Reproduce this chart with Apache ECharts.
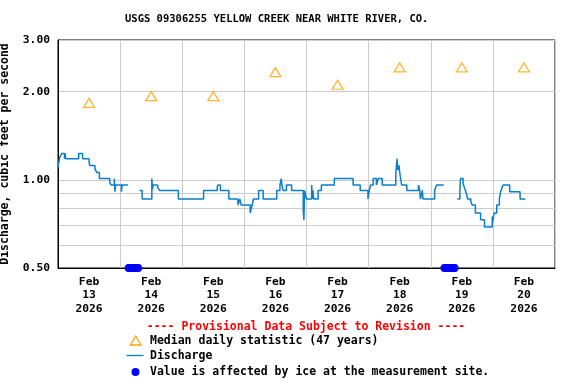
<!DOCTYPE html>
<html><head><meta charset="utf-8">
<script src="https://cdn.jsdelivr.net/npm/echarts@6/dist/echarts.min.js"></script>
<style>html,body{margin:0;padding:0;background:#fff}#c{width:576px;height:384px}</style>
</head><body><div id="c"></div>
<script>
const chartTitle = 'USGS 09306255 YELLOW CREEK NEAR WHITE RIVER, CO.';
const yAxisName = 'Discharge, cubic feet per second';
const yTickValues = [0.5, 0.6, 0.7, 0.8, 0.9, 1, 2, 3];
const yLabelValues = [0.5, 1, 2, 3];
const xMin = '2026-02-13T00:00:00';
const xMax = '2026-02-21T00:00:00';
const xDayLabels = ['Feb\n13\n2026','Feb\n14\n2026','Feb\n15\n2026','Feb\n16\n2026','Feb\n17\n2026','Feb\n18\n2026','Feb\n19\n2026','Feb\n20\n2026'];

const medianTimes = ['2026-02-13 12:00','2026-02-14 12:00','2026-02-15 12:00','2026-02-16 12:00','2026-02-17 12:00','2026-02-18 12:00','2026-02-19 12:00','2026-02-20 12:00'];
const medianValues = [1.83, 1.93, 1.93, 2.33, 2.11, 2.42, 2.42, 2.42];

const dischargeTimes = [
 '2026-02-13 00:00','2026-02-13 00:15','2026-02-13 00:45','2026-02-13 01:30','2026-02-13 02:30','2026-02-13 02:45','2026-02-13 03:00','2026-02-13 08:00','2026-02-13 09:30','2026-02-13 12:00','2026-02-13 12:15','2026-02-13 14:15','2026-02-13 15:00','2026-02-13 16:00','2026-02-13 20:00','2026-02-13 20:30','2026-02-13 21:45','2026-02-13 22:00','2026-02-13 22:15',
 '2026-02-14 00:30','2026-02-14 00:45','2026-02-14 03:00','2026-02-14 03:15',
 '2026-02-14 07:30','2026-02-14 08:30','2026-02-14 12:15','2026-02-14 12:30','2026-02-14 12:45','2026-02-14 14:30','2026-02-14 15:15','2026-02-14 22:30',
 '2026-02-15 08:15','2026-02-15 13:30','2026-02-15 13:45','2026-02-15 14:45','2026-02-15 18:00','2026-02-15 21:30','2026-02-15 22:15','2026-02-15 22:45',
 '2026-02-16 02:15','2026-02-16 03:00','2026-02-16 03:30','2026-02-16 05:30','2026-02-16 07:15','2026-02-16 12:30','2026-02-16 13:45','2026-02-16 14:15','2026-02-16 14:30','2026-02-16 15:00','2026-02-16 16:15','2026-02-16 18:15','2026-02-16 22:45','2026-02-16 23:00','2026-02-16 23:15',
 '2026-02-17 00:00','2026-02-17 02:00','2026-02-17 02:15','2026-02-17 02:30','2026-02-17 02:45','2026-02-17 04:30','2026-02-17 05:45','2026-02-17 10:45','2026-02-17 18:00','2026-02-17 20:45','2026-02-17 23:45',
 '2026-02-18 00:15','2026-02-18 00:45','2026-02-18 01:45','2026-02-18 03:00','2026-02-18 03:45','2026-02-18 05:15','2026-02-18 10:30','2026-02-18 11:00','2026-02-18 11:15','2026-02-18 11:45','2026-02-18 12:00','2026-02-18 12:45','2026-02-18 14:45','2026-02-18 19:15','2026-02-18 19:45','2026-02-18 20:00','2026-02-18 20:45','2026-02-18 21:00',
 '2026-02-19 01:30','2026-02-19 02:15','2026-02-19 05:00','2026-02-19 05:15',
 '2026-02-19 10:15','2026-02-19 11:15','2026-02-19 11:30','2026-02-19 12:30','2026-02-19 13:00','2026-02-19 13:45','2026-02-19 14:15','2026-02-19 15:30','2026-02-19 16:00','2026-02-19 17:15','2026-02-19 19:15','2026-02-19 20:45','2026-02-19 23:45',
 '2026-02-20 00:00','2026-02-20 00:15','2026-02-20 00:30','2026-02-20 01:30','2026-02-20 02:30','2026-02-20 03:00','2026-02-20 03:30','2026-02-20 04:00','2026-02-20 06:30','2026-02-20 10:30','2026-02-20 12:30'
];
const dischargeValues = [
 1.10,1.14,1.20,1.23,1.18,1.23,1.18,1.23,1.18,1.15,1.12,1.09,1.06,1.01,0.98,0.96,1.01,0.91,0.96,
 0.91,0.96,0.96,null,
 0.92,0.86,1.01,0.93,0.96,0.94,0.92,0.86,
 0.92,0.94,0.96,0.92,0.86,0.82,0.86,0.82,
 0.77,0.82,0.86,0.92,0.86,0.92,0.96,1.01,0.96,0.92,0.96,0.92,0.79,0.73,0.92,
 0.86,0.96,0.86,0.92,0.86,0.92,0.96,1.01,0.96,0.92,0.86,
 0.92,0.96,1.01,0.96,1.01,0.96,1.06,1.18,1.08,1.12,1.06,0.96,0.92,0.96,0.92,0.86,0.92,0.86,
 0.92,0.96,0.96,null,
 0.86,0.92,1.01,0.97,0.94,0.90,0.86,0.84,0.82,0.77,0.73,0.69,0.75,
 0.72,0.75,0.77,0.82,0.86,0.91,0.94,0.96,0.91,0.86,0.86
];

const iceTimes = [
 '2026-02-14 03:15','2026-02-14 03:30','2026-02-14 03:45','2026-02-14 04:00','2026-02-14 04:15','2026-02-14 04:30','2026-02-14 04:45','2026-02-14 05:00','2026-02-14 05:15','2026-02-14 05:30','2026-02-14 05:45','2026-02-14 06:00','2026-02-14 06:15','2026-02-14 06:30','2026-02-14 06:45','2026-02-14 07:00',
 '2026-02-19 05:15','2026-02-19 05:30','2026-02-19 05:45','2026-02-19 06:00','2026-02-19 06:15','2026-02-19 06:30','2026-02-19 06:45','2026-02-19 07:00','2026-02-19 07:15','2026-02-19 07:30','2026-02-19 07:45','2026-02-19 08:00','2026-02-19 08:15','2026-02-19 08:30','2026-02-19 08:45','2026-02-19 09:00','2026-02-19 09:15'
];
const iceLevel = 0.5;

const legendProvisional = '---- Provisional Data Subject to Revision ----';
const legendMedian = 'Median daily statistic (47 years)';
const legendDischarge = 'Discharge';
const legendIce = 'Value is affected by ice at the measurement site.';

const FONT = '"DejaVu Sans Mono", monospace';
const LINE_COLOR = '#0A7ECF';
const MEDIAN_COLOR = '#FFA500';
const GRID_COLOR = '#CCCCCC';

const chart = echarts.init(document.getElementById('c'), null, {renderer: 'canvas'});
const option = {
  animation: false,
  backgroundColor: '#fff',
  title: {
    text: chartTitle, left: 120, top: 9,
    textStyle: {fontFamily: FONT, fontWeight: 'bold', fontSize: 10.5, color: '#000'}
  },
  grid: {left: 58, right: 21, top: 40, bottom: 116, outerBoundsMode: 'none', containLabel: false, show: true, borderColor: '#000', borderWidth: 1, backgroundColor: '#fff'},
  xAxis: [
    {
      type: 'time', min: +new Date(xMin), max: +new Date(xMax),
      axisLine: {show: true, lineStyle: {color: '#000', width: 1}},
      axisTick: {show: false}, axisLabel: {show: false}, splitLine: {show: false}
    },
    {
      type: 'category', data: xDayLabels, boundaryGap: true, position: 'bottom',
      axisLine: {show: false}, axisTick: {show: false},
      splitLine: {show: true, interval: 0, lineStyle: {color: GRID_COLOR, width: 1}},
      axisLabel: {
        interval: 0, color: '#000', fontFamily: FONT, fontWeight: 'bold', fontSize: 11.3, lineHeight: 13.5, margin: 7
      }
    }
  ],
  yAxis: {
    type: 'log', logBase: 10, min: 0.5, max: 3,
    name: yAxisName, nameLocation: 'middle', nameGap: 47,
    nameTextStyle: {fontFamily: FONT, fontWeight: 'bold', fontSize: 11.5, color: '#000'},
    axisLine: {show: true, lineStyle: {color: '#000', width: 1}},
    axisTick: {show: false, customValues: yTickValues},
    splitLine: {show: true, lineStyle: {color: GRID_COLOR, width: 1}},
    axisLabel: {
      customValues: yLabelValues, color: '#000', fontFamily: FONT, fontWeight: 'bold', fontSize: 11.3, margin: 8,
      formatter: function (v) { return Number(v).toFixed(2); }
    }
  },
  series: [
    {
      name: legendDischarge, type: 'line', step: 'end', showSymbol: false, symbol: 'none', connectNulls: false,
      xAxisIndex: 0,
      lineStyle: {color: LINE_COLOR, width: 1.5}, z: 3,
      data: dischargeTimes.map((t, i) => [t, dischargeValues[i] === null ? '-' : dischargeValues[i]])
    },
    {
      name: legendMedian, type: 'scatter', symbol: 'triangle', symbolSize: [11, 9], xAxisIndex: 0,
      itemStyle: {color: 'rgba(255,255,255,0)', borderColor: MEDIAN_COLOR, borderWidth: 1.3}, z: 4,
      data: medianTimes.map((t, i) => [t, medianValues[i]])
    },
    {
      name: legendIce, type: 'scatter', symbol: 'circle', symbolSize: 8, clip: false, xAxisIndex: 0,
      itemStyle: {color: '#0000FF'}, z: 5,
      data: iceTimes.map(t => [t, iceLevel])
    }
  ],
  graphic: [
    {type: 'text', x: 306, y: 327, style: {text: legendProvisional, fill: '#FF0000', font: 'bold 11.5px ' + FONT, textAlign: 'center', textVerticalAlign: 'middle'}},
    {type: 'polygon', shape: {points: [[130.5, 345], [135.7, 336], [141, 345]]}, style: {fill: 'none', stroke: MEDIAN_COLOR, lineWidth: 1.3}},
    {type: 'text', x: 150, y: 341, style: {text: legendMedian, fill: '#000', font: 'bold 11.5px ' + FONT, textAlign: 'left', textVerticalAlign: 'middle'}},
    {type: 'line', shape: {x1: 126.5, y1: 355.5, x2: 143.5, y2: 355.5}, style: {stroke: LINE_COLOR, lineWidth: 1.3}},
    {type: 'text', x: 150, y: 356, style: {text: legendDischarge, fill: '#000', font: 'bold 11.5px ' + FONT, textAlign: 'left', textVerticalAlign: 'middle'}},
    {type: 'circle', shape: {cx: 135.5, cy: 372, r: 4}, style: {fill: '#0000FF'}},
    {type: 'text', x: 150, y: 372, style: {text: legendIce, fill: '#000', font: 'bold 11.5px ' + FONT, textAlign: 'left', textVerticalAlign: 'middle'}}
  ]
};
chart.setOption(option);
</script>
</body></html>
